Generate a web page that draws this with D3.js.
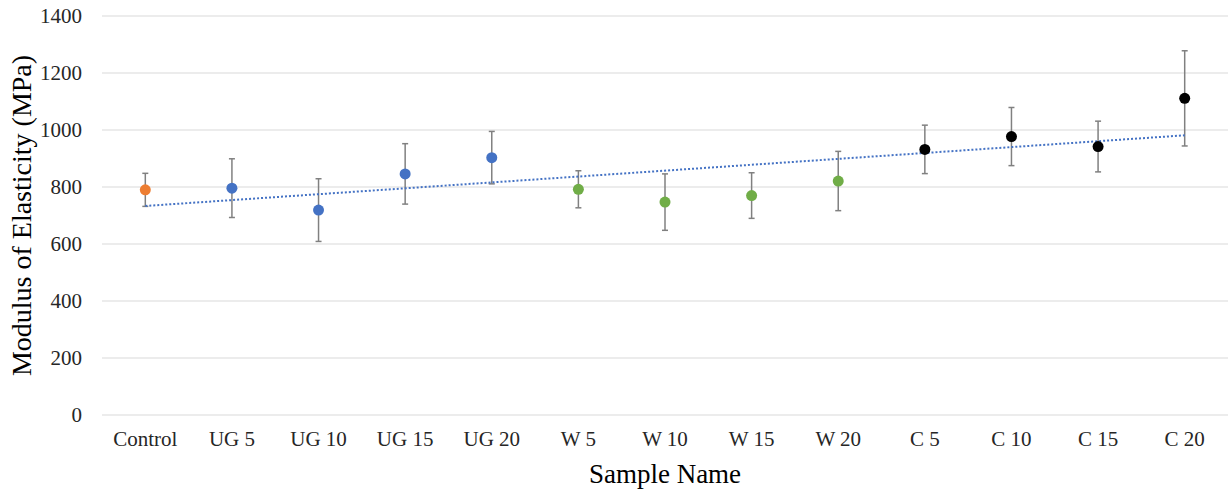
<!DOCTYPE html>
<html>
<head>
<meta charset="utf-8">
<script src="https://cdn.jsdelivr.net/npm/d3@7"></script>
<style>
  body { margin: 0; background: #fff; }
</style>
</head>
<body>
<div id="chart"></div>
<script>
// Data
const samples = ["Control", "UG 5", "UG 10", "UG 15", "UG 20", "W 5", "W 10", "W 15", "W 20", "C 5", "C 10", "C 15", "C 20"];
const modulus = [790, 796, 719, 846, 903, 792, 747, 770, 821, 932, 977, 942, 1111];
const errors = [58, 103, 110, 106, 92, 65, 99, 80, 104, 85, 102, 89, 167];
const groups = ["control", "UG", "UG", "UG", "UG", "W", "W", "W", "W", "C", "C", "C", "C"];
const yTicks = [0, 200, 400, 600, 800, 1000, 1200, 1400];

const width = 1231;
const height = 493;
const margin = {top: 16, right: 3, bottom: 78, left: 102};

const svg = d3.select("#chart")
    .append("svg")
    .attr("width", width)
    .attr("height", height)
    .style("font-family", "'Liberation Serif', 'Times New Roman', serif");

const x = d3.scaleBand()
    .domain(samples)
    .range([margin.left, width - margin.right]);

const y = d3.scaleLinear()
    .domain([0, 1400])
    .range([height - margin.bottom, margin.top]);

const color = d3.scaleOrdinal()
    .domain(["control", "UG", "W", "C"])
    .range(["#ED7D31", "#4472C4", "#70AD47", "#000000"]);

const cx = d => x(d) + x.bandwidth() / 2;

// Gridlines
svg.append("g")
    .selectAll("line")
    .data(yTicks)
    .join("line")
    .attr("x1", margin.left)
    .attr("x2", width - margin.right)
    .attr("y1", d => y(d))
    .attr("y2", d => y(d))
    .attr("stroke", "#d9d9d9")
    .attr("stroke-width", 1);

// Y axis labels
const yAxis = d3.axisLeft(y).tickValues(yTicks).tickFormat(d3.format("d")).tickSize(0).tickPadding(20);
svg.append("g")
    .attr("transform", `translate(${margin.left},0)`)
    .call(yAxis)
    .call(g => g.select(".domain").remove())
    .selectAll("text")
    .attr("fill", "#262626")
    .style("font-size", "21px")
    .style("font-family", "'Liberation Serif', serif");

// X axis labels
const xAxis = d3.axisBottom(x).tickSize(0).tickPadding(16);
svg.append("g")
    .attr("transform", `translate(0,${height - margin.bottom})`)
    .call(xAxis)
    .call(g => g.select(".domain").remove())
    .selectAll("text")
    .attr("fill", "#262626")
    .style("font-size", "21px")
    .style("font-family", "'Liberation Serif', serif");

// Error bars
const points = samples.map((s, i) => ({name: s, value: modulus[i], err: errors[i], group: groups[i]}));
const bars = svg.append("g")
    .attr("stroke", "#808080")
    .attr("stroke-width", 1.5);

bars.selectAll(".stem")
    .data(points)
    .join("line")
    .attr("x1", d => cx(d.name))
    .attr("x2", d => cx(d.name))
    .attr("y1", d => y(d.value - d.err))
    .attr("y2", d => y(d.value + d.err));

bars.selectAll(".cap")
    .data(points.flatMap(d => [{name: d.name, v: d.value - d.err}, {name: d.name, v: d.value + d.err}]))
    .join("line")
    .attr("x1", d => cx(d.name) - 3)
    .attr("x2", d => cx(d.name) + 3)
    .attr("y1", d => y(d.v))
    .attr("y2", d => y(d.v));

// Linear trendline (least squares over sample index)
const idx = d3.range(1, samples.length + 1);
const mx = d3.mean(idx);
const my = d3.mean(modulus);
const slope = d3.sum(idx, (k, i) => (k - mx) * (modulus[i] - my)) / d3.sum(idx, k => (k - mx) ** 2);
const intercept = my - slope * mx;
const first = samples[0], last = samples[samples.length - 1];

svg.append("line")
    .attr("x1", cx(first))
    .attr("x2", cx(last))
    .attr("y1", y(intercept + slope * 1))
    .attr("y2", y(intercept + slope * samples.length))
    .attr("stroke", "#4472C4")
    .attr("stroke-width", 2)
    .attr("stroke-dasharray", "2,2");

// Markers
svg.append("g")
    .selectAll("circle")
    .data(points)
    .join("circle")
    .attr("cx", d => cx(d.name))
    .attr("cy", d => y(d.value))
    .attr("r", 5.5)
    .attr("fill", d => color(d.group));

// Axis titles
svg.append("text")
    .attr("x", (margin.left + width - margin.right) / 2)
    .attr("y", 483)
    .attr("text-anchor", "middle")
    .attr("fill", "#000")
    .style("font-size", "27px")
    .text("Sample Name");

svg.append("text")
    .attr("transform", `translate(31,${(margin.top + height - margin.bottom) / 2}) rotate(-90)`)
    .attr("text-anchor", "middle")
    .attr("fill", "#000")
    .style("font-size", "28px")
    .text("Modulus of Elasticity (MPa)");
</script>
</body>
</html>
